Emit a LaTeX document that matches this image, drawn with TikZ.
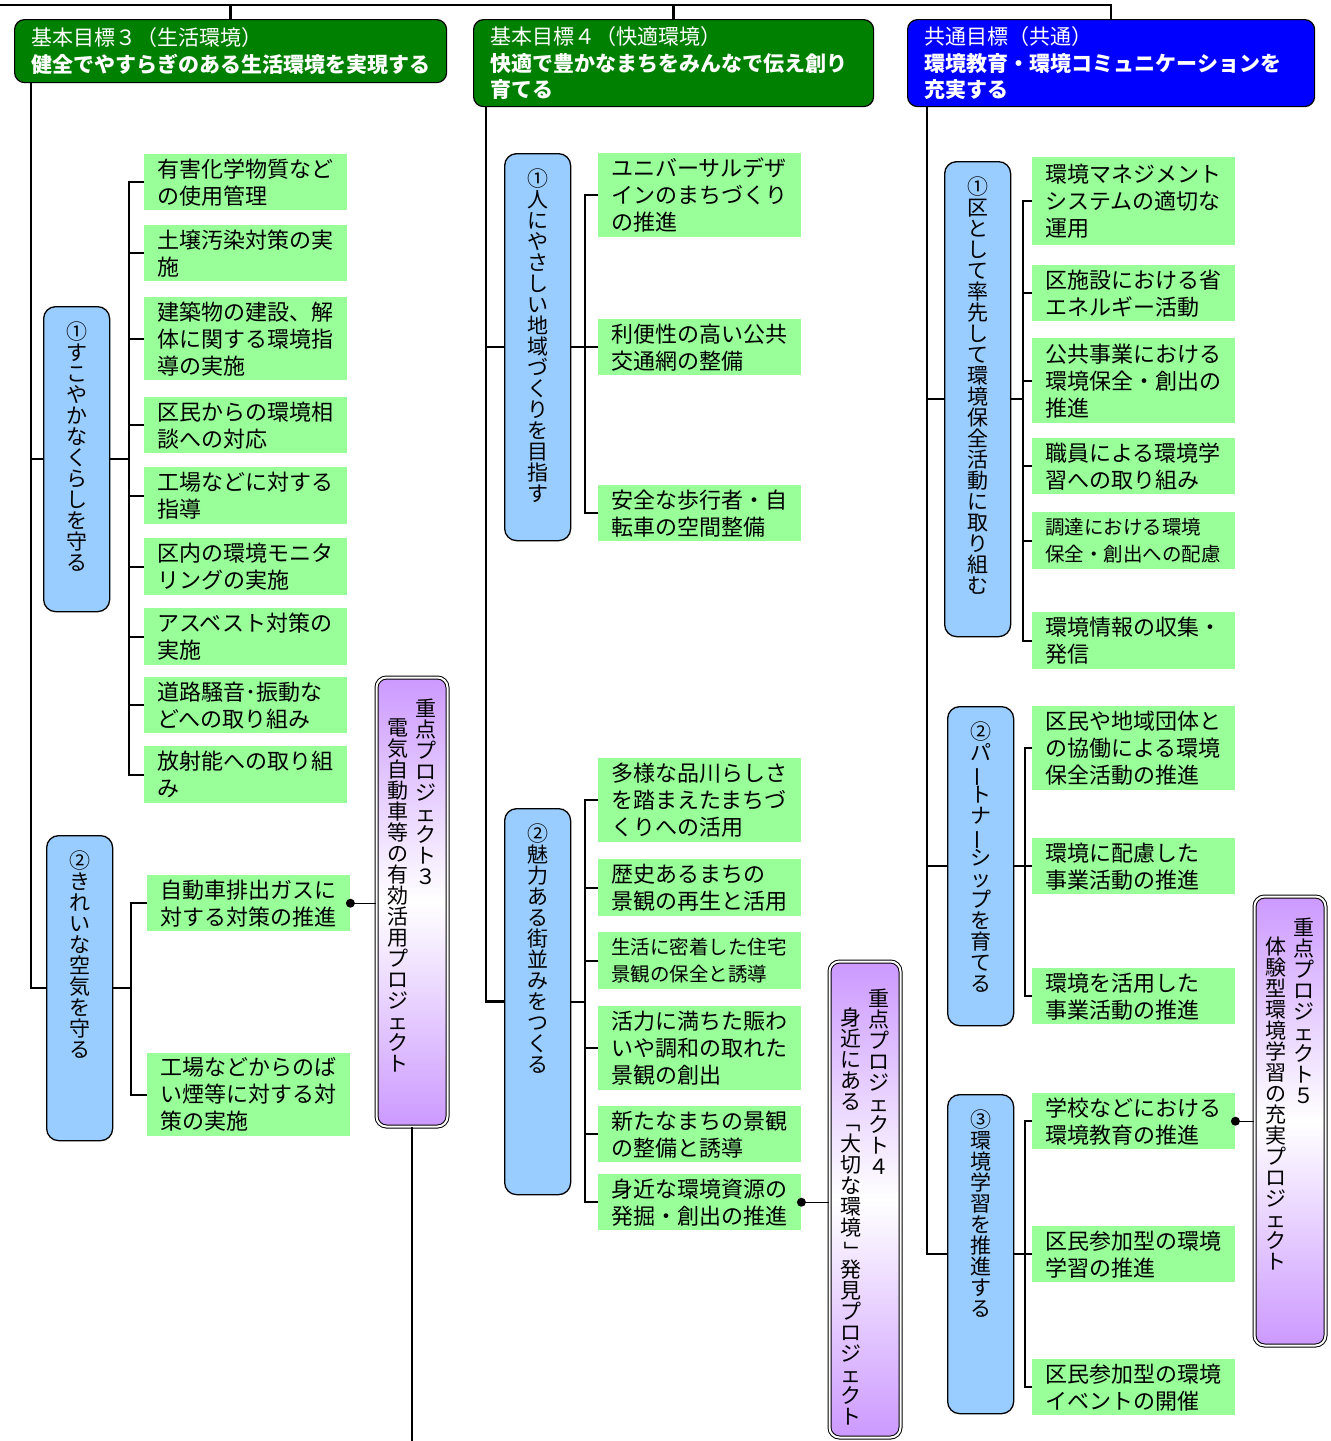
\documentclass[tikz,border=0pt]{standalone}
\usepackage{fontspec}
\setmainfont{Noto Sans CJK JP}
\usepackage{graphicx}
\usepackage{tikz}
\usetikzlibrary{positioning}
\definecolor{goalgreen}{RGB}{0,128,0}
\definecolor{goalblue}{RGB}{0,0,255}
\definecolor{catblue}{RGB}{153,204,255}
\definecolor{itemgreen}{RGB}{153,255,153}
\definecolor{projpurple}{RGB}{204,153,255}
\makeatletter
% vertical text, one upright glyph per line
\newcommand\tate[1]{\vtop{\baselineskip=1em\lineskiplimit=-\maxdimen\lineskip=0pt
  \@tfor\tatech:=#1\do{\hbox to 1em{\hss\tatech\hss}}}}
\makeatother
\newcommand\tbar{\rotatebox[origin=c]{90}{ー}}
\newcommand\topen{\rotatebox[origin=c]{-90}{「}}
\newcommand\tclose{\rotatebox[origin=c]{-90}{」}}
\tikzstyle{goal}=[draw=black,line width=1.2pt,rounded corners=10pt,anchor=north west,text=white,align=left,inner xsep=17pt,inner ysep=2pt,font=\fontsize{21}{26.5}\selectfont]
\tikzstyle{cat}=[draw=black,line width=1.3pt,fill=catblue,rounded corners=12pt,anchor=north west,minimum width=66pt]
\tikzstyle{item}=[fill=itemgreen,anchor=north west,minimum width=203pt,text width=177pt,inner xsep=13pt,inner ysep=0pt,align=left,font=\fontsize{22}{27}\selectfont]
\tikzstyle{proj}=[draw=black,line width=1pt,double,double distance=2pt,rounded corners=10pt,anchor=north west,minimum width=71pt,top color=projpurple,bottom color=projpurple,middle color=white]
\tikzstyle{tatetext}=[inner sep=0pt,font=\fontsize{21}{21}\selectfont]
\tikzstyle{stem}=[line width=2.5pt]
\tikzstyle{brk}=[line width=1.8pt]
\tikzstyle{link}=[line width=1.2pt]

\begin{document}
\begin{tikzpicture}[x=1pt,y=-1pt]
\useasboundingbox (0,0) rectangle (1331,1441);

% goals
\node[goal,fill=goalgreen,text width=398pt,minimum height=63pt] (g3) at (14,19)
  {基本目標３（生活環境）\\\textbf{健全でやすらぎのある生活環境を実現する}};
\node[goal,fill=goalgreen,text width=366pt,minimum height=87pt] (g4) at (473,19)
  {基本目標４（快適環境）\\\textbf{快適で豊かなまちをみんなで伝え創り}\\\textbf{育てる}};
\node[goal,fill=goalblue,text width=373pt,minimum height=87pt] (gc) at (907,19)
  {共通目標（共通）\\\textbf{環境教育・環境コミュニケーションを}\\\textbf{充実する}};
\coordinate (topL) at (0,5);
\draw[stem] (topL) -| (gc.north);
\draw[stem] (g3.north) -- (g3.north |- topL);
\draw[stem] (g4.north) -- (g4.north |- topL);

% goal 3
\node[cat,minimum height=305pt] (c31) at (43,306) {};
\node[tatetext,below=16pt of c31.north] (t31) {\tate{①すこやかなくらしを守る}};
\node[cat,minimum height=305pt] (c32) at (46,835) {};
\node[tatetext,below=16pt of c32.north] (t32) {\tate{②きれいな空気を守る}};
\draw[stem] ([xshift=17pt]g3.south west) |- (c31.west);
\draw[stem] ([xshift=17pt]g3.south west) |- (c32.west);

\node[item,minimum height=56pt] (a1) at (144,154) {有害化学物質など\\の使用管理};
\node[item,minimum height=56pt] (a2) at (144,225) {土壌汚染対策の実\\施};
\node[item,minimum height=83pt] (a3) at (144,297) {建築物の建設、解\\体に関する環境指\\導の実施};
\node[item,minimum height=56pt] (a4) at (144,397) {区民からの環境相\\談への対応};
\node[item,minimum height=57pt] (a5) at (144,467) {工場などに対する\\指導};
\node[item,minimum height=57pt] (a6) at (144,538) {区内の環境モニタ\\リングの実施};
\node[item,minimum height=57pt] (a7) at (144,608) {アスベスト対策の\\実施};
\node[item,minimum height=56pt] (a8) at (144,677) {道路騒音･振動な\\どへの取り組み};
\node[item,minimum height=57pt] (a9) at (144,746) {放射能への取り組\\み};
\draw[brk] (c31.east) -- ++(19,0) coordinate (b31);
\foreach \n in {1,...,9}
  \draw[brk] (a\n.west) -| (b31);

\node[item,minimum height=56pt] (b1) at (147,875) {自動車排出ガスに\\対する対策の推進};
\node[item,minimum height=83pt] (b2) at (147,1053) {工場などからのば\\い煙等に対する対\\策の実施};
\draw[brk] (c32.east) -- ++(18,0) coordinate (b32);
\foreach \n in {1,2}
  \draw[brk] (b\n.west) -| (b32);

\node[proj,minimum height=449pt] (p3) at (376,677) {};
\node[tatetext,below=22pt of p3.north] (t3)
  {\lower19pt\tate{電気自動車等の有効活用プロジェクト}\hskip7pt\tate{重点プロジェクト３}};
\draw[link] (b1.east) -- (b1.east -| p3.west);
\fill (b1.east) circle (4.5pt);
\coordinate (p3end) at (412,1441);
\draw[link] (p3.south) -- (p3end);

% goal 4
\node[cat,minimum height=387pt] (c41) at (504,153) {};
\node[tatetext,below=16pt of c41.north] (t41) {\tate{①人にやさしい地域づくりを目指す}};
\node[cat,minimum height=386pt] (c42) at (504,808) {};
\node[tatetext,below=16pt of c42.north] (t42) {\tate{②魅力ある街並みをつくる}};
\draw[stem] ([xshift=13pt]g4.south west) |- (c41.west);
\draw[stem] ([xshift=13pt]g4.south west) |- (c42.west);

\node[item,minimum height=84pt] (d1) at (598,153) {ユニバーサルデザ\\インのまちづくり\\の推進};
\node[item,minimum height=56pt] (d2) at (598,319) {利便性の高い公共\\交通網の整備};
\node[item,minimum height=56pt] (d3) at (598,485) {安全な歩行者・自\\転車の空間整備};
\draw[brk] (c41.east) -- ++(14,0) coordinate (b41);
\foreach \n in {1,2,3}
  \draw[brk] (d\n.west) -| (b41);

\node[item,minimum height=84pt] (e1) at (598,758) {多様な品川らしさ\\を踏まえたまちづ\\くりへの活用};
\node[item,minimum height=57pt] (e2) at (598,859) {歴史あるまちの\\景観の再生と活用};
\node[item,minimum height=57pt,font=\fontsize{19.5}{27}\selectfont] (e3) at (598,932) {生活に密着した住宅\\景観の保全と誘導};
\node[item,minimum height=84pt] (e4) at (598,1006) {活力に満ちた賑わ\\いや調和の取れた\\景観の創出};
\node[item,minimum height=56pt] (e5) at (598,1106) {新たなまちの景観\\の整備と誘導};
\node[item,minimum height=56pt] (e6) at (598,1174) {身近な環境資源の\\発掘・創出の推進};
\draw[brk] (c42.east) -- ++(14,0) coordinate (b42);
\foreach \n in {1,...,6}
  \draw[brk] (e\n.west) -| (b42);

\node[proj,minimum height=476pt] (p4) at (829,961) {};
\node[tatetext,below=28pt of p4.north] (t4)
  {\lower19pt\tate{身近にある\topen 大切な環境\tclose 発見プロジェクト}\hskip7pt\tate{重点プロジェクト４}};
\draw[link] (e6.east) -- (e6.east -| p4.west);
\fill (e6.east) circle (4.5pt);

% common goal
\node[cat,minimum height=475pt] (cc1) at (944,161) {};
\node[tatetext,below=16pt of cc1.north] (tc1) {\tate{①区として率先して環境保全活動に取り組む}};
\node[cat,minimum height=319pt] (cc2) at (947,706) {};
\node[tatetext,below=16pt of cc2.north] (tc2) {\tate{②パ\tbar トナ\tbar シップを育てる}};
\node[cat,minimum height=319pt] (cc3) at (947,1094) {};
\node[tatetext,below=16pt of cc3.north] (tc3) {\tate{③環境学習を推進する}};
\draw[stem] ([xshift=20pt]gc.south west) |- (cc1.west);
\draw[stem] ([xshift=20pt]gc.south west) |- (cc2.west);
\draw[stem] ([xshift=20pt]gc.south west) |- (cc3.west);

\node[item,minimum height=88pt] (f1) at (1032,157) {環境マネジメント\\システムの適切な\\運用};
\node[item,minimum height=56pt] (f2) at (1032,265) {区施設における省\\エネルギー活動};
\node[item,minimum height=85pt] (f3) at (1032,338) {公共事業における\\環境保全・創出の\\推進};
\node[item,minimum height=56pt] (f4) at (1032,438) {職員による環境学\\習への取り組み};
\node[item,minimum height=57pt,font=\fontsize{19.5}{27}\selectfont] (f5) at (1032,512) {調達における環境\\保全・創出への配慮};
\node[item,minimum height=57pt] (f6) at (1032,612) {環境情報の収集・\\発信};
\draw[brk] (cc1.east) -- ++(12,0) coordinate (bc1);
\foreach \n in {1,...,6}
  \draw[brk] (f\n.west) -| (bc1);

\node[item,minimum height=84pt] (h1) at (1032,706) {区民や地域団体と\\の協働による環境\\保全活動の推進};
\node[item,minimum height=56pt] (h2) at (1032,838) {環境に配慮した\\事業活動の推進};
\node[item,minimum height=56pt] (h3) at (1032,968) {環境を活用した\\事業活動の推進};
\draw[brk] (cc2.east) -- ++(11,0) coordinate (bc2);
\foreach \n in {1,2,3}
  \draw[brk] (h\n.west) -| (bc2);

\node[item,minimum height=56pt] (k1) at (1032,1093) {学校などにおける\\環境教育の推進};
\node[item,minimum height=56pt] (k2) at (1032,1226) {区民参加型の環境\\学習の推進};
\node[item,minimum height=56pt] (k3) at (1032,1359) {区民参加型の環境\\イベントの開催};
\draw[brk] (cc3.east) -- ++(11,0) coordinate (bc3);
\foreach \n in {1,2,3}
  \draw[brk] (k\n.west) -| (bc3);

\node[proj,minimum height=449pt] (p5) at (1254,896) {};
\node[tatetext,below=22pt of p5.north] (t5)
  {\lower19pt\tate{体験型環境学習の充実プロジェクト}\hskip7pt\tate{重点プロジェクト５}};
\draw[link] (k1.east) -- (k1.east -| p5.west);
\fill (k1.east) circle (4.5pt);
\end{tikzpicture}
\end{document}
